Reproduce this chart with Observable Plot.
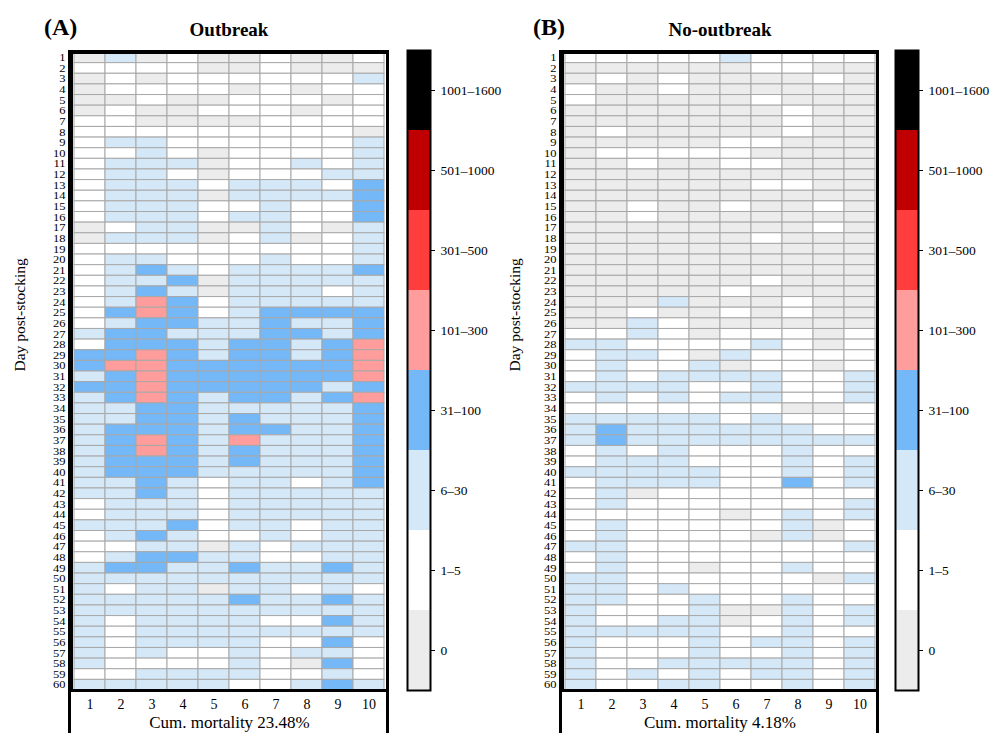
<!DOCTYPE html>
<html><head><meta charset="utf-8">
<script src="https://cdn.jsdelivr.net/npm/d3@7"></script>
<script src="https://cdn.jsdelivr.net/npm/@observablehq/plot@0.6"></script>
<style>
body{margin:0;background:#fff;width:993px;height:733px;overflow:hidden;position:relative;font-family:"Liberation Serif","Times New Roman",serif;}
.abs{position:absolute;}
.tag{font-weight:bold;font-size:24px;line-height:1;}
.title{font-weight:bold;font-size:19px;line-height:1;transform:translateX(-50%);white-space:nowrap;}
.box{border:3px solid #000;box-sizing:border-box;}
svg{overflow:visible;}
svg, svg text{font-family:"Liberation Serif","Times New Roman",serif !important;}
</style></head><body>
<script>
// category labels (legend order bottom→top) and colours
const categories = ["0","1–5","6–30","31–100","101–300","301–500","501–1000","1001–1600"];
const colors = ["#ececec","#ffffff","#d5e8f8","#74b8f8","#ff9c9c","#ff3d3d","#c00000","#000000"];
const cages = ["1","2","3","4","5","6","7","8","9","10"];
const days = Array.from({length:60},(_, i)=>String(i+1));

// Panel A: outbreak — one string per day, one digit per cage (category index)
const outbreak = [
"0201001001","1111001000","0101111112","0111101011","0010011101",
"0100111011","1100001111","1111111110","1221111112","1121011112",
"1222011212","1221011122","1222122213","1222022223","1222112113",
"1222122113","0122002102","0222012012","1111111112","1221112112",
"1232122223","1223022222","1232022212","1243122222","1343123333",
"1233223223","2332223323","1333233234","3343233234","3443333334",
"2343333334","3343333323","2343233234","2233222223","2233232223",
"2333233223","2343242223","2343232223","2333232223","2333222223",
"2232122123","2232122222","1222122222","1222122222","2223122122",
"1232112122","1122021222","1233221122","2332232232","2222222222",
"2122022121","2222232232","2222222222","2122221132","2122222222",
"2122221131","2121121221","2111121031","1122221121","2222211232"
];
// Panel B: no-outbreak
const noOutbreak = [
"1111121111","0000001100","0101000010","1001000000","1000001000",
"0000000100","0000000100","0100000100","0000011000","0111110000",
"0010011000","0000000000","0000001100","0000000000","0010010010",
"0010000000","0000000010","0000001000","0000000000","0000000000",
"0000000000","0000001000","0000010000","0002000100","0010010100",
"0021000000","1121011101","2211112101","1221021111","1211201101",
"1212222112","2222112112","1212122112","1111111001","2222212111",
"2322222211","2322222222","1212111211","1222111212","2222211212",
"1222211312","1201111111","1211111112","1111101212","1211111201",
"1211110201","2211111112","1211111111","1211011211","2211111102",
"2212111111","2211211211","2111200212","2112201212","2222211211",
"2111212212","2111211212","2112222212","2121212212","2112211212"
];
const panels = [
  {tag:"(A)", title:"Outbreak", caption:"Cum. mortality 23.48%", rows:outbreak},
  {tag:"(B)", title:"No-outbreak", caption:"Cum. mortality 4.18%", rows:noOutbreak}
];

const FONT = "Liberation Serif";
const colorScale = {type:"ordinal", domain:categories, range:colors};

function place(el, left, top){ el.style.position="absolute"; el.style.left=left+"px"; el.style.top=top+"px"; document.body.appendChild(el); return el; }
function div(cls, text, left, top, w, h){
  const d=document.createElement("div"); d.className="abs "+cls; if(text) d.textContent=text;
  d.style.left=left+"px"; d.style.top=top+"px"; if(w) d.style.width=w+"px"; if(h) d.style.height=h+"px";
  document.body.appendChild(d); return d;
}

function heat(p, svgLeft, gridLeft, gridRight, labelDx){
  const data=[];
  p.rows.forEach((r,i)=>r.split("").forEach((c,j)=>data.push({day:days[i], cage:cages[j], cat:categories[+c]})));
  const W=400;
  const svg = Plot.plot({
    width:W, height:733,
    marginLeft:gridLeft-svgLeft, marginRight:W-(gridRight-svgLeft), marginTop:52, marginBottom:43,
    x:{type:"band", domain:cages, padding:0},
    y:{type:"band", domain:days, padding:0},
    color:colorScale,
    style:{fontFamily:FONT, background:"transparent", color:"#000"},
    marks:[
      Plot.cell(data,{x:"cage", y:"day", fill:"cat", stroke:"#a8a8a8", strokeWidth:1}),
      Plot.frame({stroke:"#000", strokeWidth:3}),
      Plot.axisX({tickSize:0, tickPadding:9, fontSize:14, label:null, fontFamily:FONT}),
      Plot.axisY({tickSize:0, tickPadding:6, fontSize:12.5, label:null, fontFamily:FONT}),
      Plot.text([p.caption],{frameAnchor:"bottom", dy:37, fontSize:17, fill:"#000", fontFamily:FONT}),
      Plot.text(["Day post-stocking"],{frameAnchor:"left", dx:labelDx, rotate:-90, fontSize:15.5, fill:"#000", fontFamily:FONT})
    ]
  });
  // squeeze the day labels vertically, as in the reference
  svg.querySelectorAll('g[aria-label="y-axis tick label"] text').forEach(t=>{
    const tr=t.getAttribute("transform")||"";
    t.setAttribute("transform", tr+" scale(1,0.82)");
  });
  return svg;
}

function legend(){
  return Plot.plot({
    width:110, height:733, marginLeft:7, marginRight:80, marginTop:50, marginBottom:43,
    x:{type:"band", domain:["k"], padding:0, axis:null},
    y:{type:"band", domain:categories.slice().reverse(), padding:0},
    color:colorScale,
    style:{fontFamily:FONT, background:"transparent", color:"#000"},
    marks:[
      Plot.cell(categories,{x:()=>"k", y:d=>d, fill:d=>d}),
      Plot.frame({stroke:"#000", strokeWidth:2}),
      Plot.axisY({anchor:"right", tickSize:4, tickPadding:6, fontSize:13.5, label:null, fontFamily:FONT})
    ]
  });
}

// Panel A
div("box","",68,50,321,720);
place(heat(panels[0],0,71,387,-51),0,0);
place(legend(),400,0);
div("tag",panels[0].tag,44,15);
div("title",panels[0].title,229,20);

// Panel B
div("box","",559,50,320,720);
place(heat(panels[1],490,562,877,-47),490,0);
place(legend(),888,0);
div("tag",panels[1].tag,533,15);
div("title",panels[1].title,720,20);
</script>
</body></html>
